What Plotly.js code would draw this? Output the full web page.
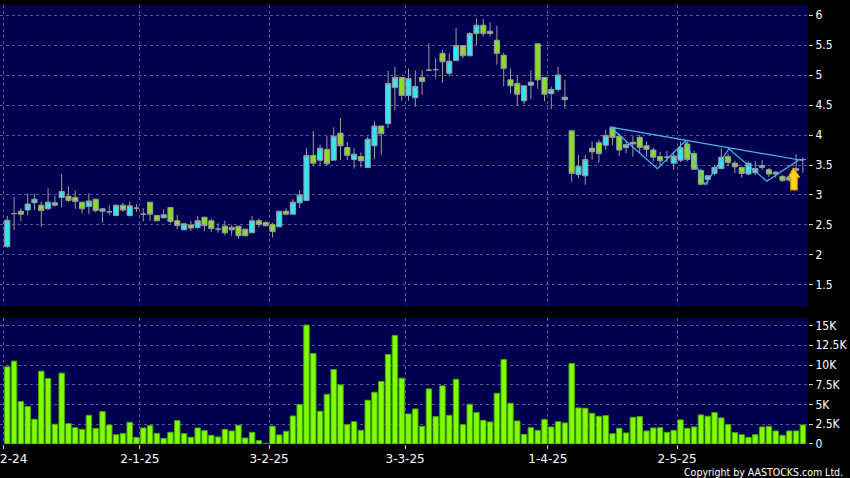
<!DOCTYPE html>
<html>
<head>
<meta charset="utf-8">
<script src="https://cdn.plot.ly/plotly-3.0.1.min.js"></script>
<style>
html,body{margin:0;padding:0;background:#000;}
#chart{width:850px;height:478px;}
</style>
</head>
<body>
<div id="chart"></div>
<script>
// Trading-day index of each candle (0 = 2-12-24)
const openP  = [2.14,2.69,2.73,2.75,2.87,2.83,2.77,2.83,2.96,2.98,2.96,2.88,2.81,2.93,2.73,2.72,2.66,2.83,2.66,2.78,
                2.68,2.88,2.66,2.62,2.79,2.57,2.42,2.50,2.46,2.63,2.57,2.43,2.48,2.42,2.48,2.43,2.37,2.57,2.54,
                2.51,2.47,2.73,2.68,2.87,2.91,3.66,3.58,3.76,3.58,4.03,3.79,3.59,3.64,3.46,3.82,4.15,4.19,4.79,4.96,
                4.66,4.62,4.96,5.08,5.09,5.36,5.03,5.24,5.49,5.32,5.69,5.83,5.69,5.58,5.33,4.92,4.86,4.57,4.83,5.52,4.96,
                4.69,4.76,4.59,4.07,3.34,3.32,3.78,3.87,3.83,4.13,3.98,3.79,3.85,3.96,3.82,3.75,3.64,3.63,3.53,
                3.58,3.85,3.69,3.41,3.26,3.36,3.44,3.64,3.53,3.46,3.35,3.37,3.46,3.42,3.35,3.31,3.30,3.41,3.59];
const highP  = [2.65,2.97,2.78,3.02,3.02,2.89,3.11,2.98,3.35,3.15,3.07,2.88,3.03,2.93,2.77,2.83,2.84,2.87,2.89,2.85,
                2.78,2.88,2.66,2.76,2.79,2.67,2.52,2.57,2.65,2.63,2.61,2.53,2.57,2.50,2.48,2.43,2.65,2.61,2.56,
                2.54,2.73,2.78,2.93,3.08,3.78,4.07,3.84,3.98,4.13,4.28,3.88,3.78,3.71,3.97,4.23,4.15,5.07,5.14,4.97,
                5.11,5.08,5.08,5.53,5.28,5.42,5.36,5.79,5.49,5.72,5.94,5.94,5.88,5.82,5.37,5.11,4.99,4.82,5.08,5.52,4.96,
                4.81,5.14,4.92,4.07,3.67,3.67,3.89,3.92,4.09,4.13,4.03,3.90,3.98,4.00,3.89,3.79,3.72,3.74,3.72,
                3.89,3.89,3.74,3.44,3.33,3.50,3.78,3.69,3.57,3.47,3.56,3.57,3.58,3.45,3.40,3.33,3.35,3.68,3.63];
const lowP   = [2.12,2.42,2.56,2.66,2.75,2.47,2.75,2.81,2.79,2.88,2.77,2.69,2.68,2.71,2.54,2.67,2.66,2.72,2.64,2.72,
                2.56,2.57,2.57,2.61,2.53,2.43,2.41,2.40,2.44,2.40,2.38,2.37,2.33,2.32,2.27,2.31,2.37,2.46,2.47,
                2.29,2.47,2.66,2.68,2.78,2.91,3.48,3.49,3.49,3.58,3.58,3.58,3.44,3.46,3.46,3.60,3.67,4.12,4.41,4.57,
                4.57,4.47,4.67,5.06,4.94,4.87,4.98,5.24,5.28,5.32,5.50,5.64,5.64,5.17,4.81,4.69,4.49,4.51,4.60,4.77,4.56,
                4.43,4.72,4.44,3.22,3.28,3.17,3.59,3.54,3.75,3.83,3.65,3.70,3.64,3.69,3.64,3.56,3.48,3.55,3.42,
                3.55,3.56,3.42,3.16,3.17,3.33,3.43,3.48,3.36,3.29,3.33,3.33,3.42,3.30,3.29,3.22,3.22,3.22,3.37];
const closeP = [2.58,2.69,2.68,2.85,2.93,2.74,2.88,2.87,3.06,2.91,2.89,2.77,2.90,2.74,2.77,2.72,2.83,2.75,2.82,2.78,
                2.68,2.68,2.57,2.67,2.56,2.49,2.52,2.45,2.57,2.49,2.44,2.43,2.37,2.46,2.32,2.32,2.57,2.51,2.49,
                2.39,2.73,2.68,2.88,3.00,3.66,3.53,3.78,3.52,3.98,3.82,3.66,3.68,3.57,3.93,4.15,4.02,4.86,4.96,4.66,
                4.94,4.81,4.89,5.08,5.09,5.22,5.23,5.49,5.32,5.69,5.83,5.69,5.73,5.36,5.11,4.82,4.68,4.82,4.88,4.92,4.68,
                4.76,5.00,4.63,3.36,3.48,3.59,3.72,3.69,3.99,3.96,3.75,3.84,3.88,3.79,3.76,3.63,3.57,3.63,3.65,
                3.79,3.59,3.43,3.18,3.32,3.46,3.63,3.54,3.47,3.36,3.53,3.44,3.49,3.35,3.38,3.24,3.25,3.44,3.59];
const volume = [9770,10490,5370,4740,3130,9220,8290,2500,8970,2580,2070,1860,3640,1990,4100,2410,1180,1350,2750,850,
                2030,2330,1350,720,1480,2960,1310,850,2030,1690,1100,890,1860,1650,2370,760,1480,420,40,
                2260,1150,1610,3550,4990,15060,11460,4150,6300,9430,7490,2450,2830,1730,5540,6560,7910,11340,13750,8330,
                3810,4440,2240,6980,3470,7360,3640,8210,2450,5030,3980,3000,2790,6430,10700,5160,2920,1230,2070,1730,3110,
                2160,2830,2670,10190,4570,4530,3890,3510,3600,1310,1990,1400,3380,3470,1650,2030,2070,1480,1730,
                3050,1990,2160,3680,3510,3980,3300,2450,1440,1180,850,1180,2160,2240,1650,1100,1650,1650,2410];
const tickIdx  = [0, 20, 39, 59, 80, 99];
const tickText = ['2-12-24','2-1-25','3-2-25','3-3-25','1-4-25','2-5-25'];
// hand-drawn trend lines (index, price)
const trendX = [88.7, 117];
const trendY = [4.13, 3.575];
const zigX = [88.7, 95.6, 99.7, 102.6, 106.1, 111.7, 116.6];
const zigY = [4.13, 3.44, 3.90, 3.17, 3.77, 3.23, 3.60];
const volTicks = [0, 2500, 5000, 7500, 10000, 12500, 15000];
const volTickText = ['0','2.5K','5K','7.5K','10K','12.5K','15K'];
const priceTicks = [1.5,2,2.5,3,3.5,4,4.5,5,5.5,6];

const idx = openP.map((_, i) => i);
const FONT = 'DejaVu Sans Condensed, DejaVu Sans, sans-serif';
const XFONT = 'DejaVu Sans, sans-serif';
const gridC = 'rgba(150,150,190,0.6)';

const traces = [
  {
    type: 'candlestick', x: idx, open: openP, high: highP, low: lowP, close: closeP,
    xaxis: 'x', yaxis: 'y',
    increasing: {line: {color: '#9c9c9c', width: 1}, fillcolor: '#33e4f2'},
    decreasing: {line: {color: '#9c9c9c', width: 1}, fillcolor: '#86e021'},
    whiskerwidth: 0, hoverinfo: 'skip', showlegend: false
  },
  {
    type: 'scatter', mode: 'lines', x: trendX, y: trendY, xaxis: 'x', yaxis: 'y',
    line: {color: '#4ab8ec', width: 1.2}, hoverinfo: 'skip', showlegend: false
  },
  {
    type: 'scatter', mode: 'lines', x: zigX, y: zigY, xaxis: 'x', yaxis: 'y',
    line: {color: '#4ab8ec', width: 1.2}, hoverinfo: 'skip', showlegend: false
  },
  {
    type: 'bar', x: idx, y: volume, xaxis: 'x', yaxis: 'y2',
    marker: {color: '#80ff00', line: {color: '#48a800', width: 1}},
    hoverinfo: 'skip', showlegend: false
  }
];

const layout = {
  width: 850, height: 478,
  paper_bgcolor: '#000000', plot_bgcolor: '#000050',
  margin: {l: 0, r: 42, t: 5, b: 34},
  font: {family: FONT, color: '#ffffff', size: 12},
  bargap: 0.2, boxgap: 0.13, boxgroupgap: 0.13,
  showlegend: false,
  xaxis: {
    anchor: 'y2', range: [-1.07, 117.75],
    tickvals: tickIdx.map(i => i - 0.5), ticktext: tickText,
    ticks: 'outside', ticklen: 4, tickcolor: '#cccccc',
    ticklabeloverflow: 'allow',
    showgrid: true, gridcolor: gridC, griddash: '3px,3px', gridwidth: 1,
    zeroline: false, showline: false,
    rangeslider: {visible: false},
    tickfont: {family: XFONT, color: '#ffffff', size: 12}
  },
  yaxis: {
    domain: [0.3144, 1], side: 'right', anchor: 'x',
    range: [1.15, 6.167], tickvals: priceTicks,
    ticks: 'outside', ticklen: 4, tickcolor: '#cccccc',
    showgrid: true, gridcolor: gridC, griddash: '3px,3px', gridwidth: 1,
    zeroline: false, showline: false,
    tickfont: {family: FONT, color: '#ffffff', size: 12}
  },
  yaxis2: {
    domain: [0, 0.287], side: 'right', anchor: 'x',
    range: [0, 15950], tickvals: volTicks, ticktext: volTickText,
    ticks: 'outside', ticklen: 4, tickcolor: '#cccccc',
    showgrid: true, gridcolor: gridC, griddash: '3px,3px', gridwidth: 1,
    zeroline: false, showline: false,
    tickfont: {family: FONT, color: '#ffffff', size: 12}
  },
  shapes: [
    {
      type: 'path', xref: 'x', yref: 'y',
      path: 'M 115.59,3.455 L 114.85,3.295 L 115.2,3.295 L 115.2,3.083 L 116.18,3.083 L 116.18,3.295 L 116.57,3.295 Z',
      fillcolor: '#ffd21a', line: {color: '#e08a00', width: 1}
    }
  ],
  annotations: [
    {
      text: 'Copyright by AASTOCKS.com Ltd.', xref: 'paper', yref: 'paper',
      x: 1.046, y: -0.0645, xanchor: 'right', yanchor: 'middle', showarrow: false,
      font: {family: FONT, color: '#ffffff', size: 10.5}
    }
  ]
};

Plotly.newPlot('chart', traces, layout, {displayModeBar: false, staticPlot: true});
</script>
</body>
</html>
